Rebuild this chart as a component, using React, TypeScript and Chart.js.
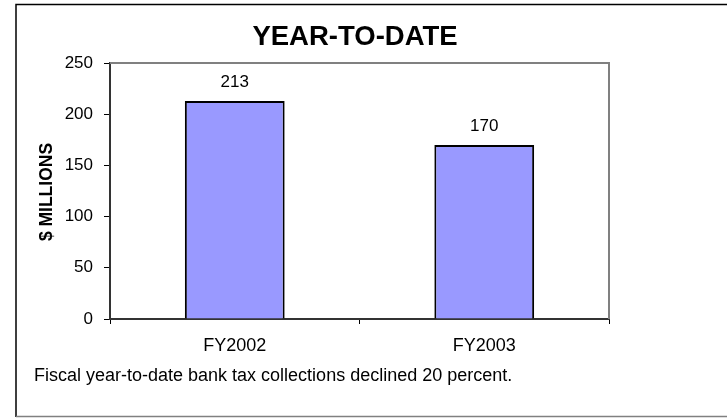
import React, { useEffect, useRef } from "react";
import { Chart, registerables } from "chart.js";

Chart.register(...registerables);

const categories = ["FY2002", "FY2003"];
const collections = [213, 170];
const chartTitle = "YEAR-TO-DATE";
const yAxisTitle = "$ MILLIONS";
const footnote = "Fiscal year-to-date bank tax collections declined 20 percent.";
const yMin = 0;
const yMax = 250;
const yStep = 50;

const FONT = "'Liberation Sans', Arial, sans-serif";

const decorPlugin = {
  id: "decor",
  beforeDraw(chart: any) {
    const ctx = chart.ctx;
    ctx.save();
    ctx.fillStyle = "#ffffff";
    ctx.fillRect(0, 0, chart.width, chart.height);
    // outer frame
    ctx.strokeStyle = "#000000";
    ctx.lineWidth = 1.5;
    ctx.beginPath();
    ctx.moveTo(16, 417);
    ctx.lineTo(16, 4.5);
    ctx.lineTo(chart.width + 5, 4.5);
    ctx.stroke();
    ctx.strokeStyle = "#808080";
    ctx.lineWidth = 1.5;
    ctx.beginPath();
    ctx.moveTo(16, 416.5);
    ctx.lineTo(chart.width + 5, 416.5);
    ctx.stroke();
    ctx.restore();
  },
  afterDraw(chart: any) {
    const ctx = chart.ctx;
    const a = chart.chartArea;
    ctx.save();
    // plot frame top/right
    ctx.strokeStyle = "#808080";
    ctx.lineWidth = 2;
    ctx.beginPath();
    ctx.moveTo(a.left, a.top);
    ctx.lineTo(a.right, a.top);
    ctx.lineTo(a.right, a.bottom);
    ctx.stroke();

    ctx.fillStyle = "#000000";
    // title
    ctx.font = `bold 27.5px ${FONT}`;
    ctx.textAlign = "center";
    ctx.textBaseline = "alphabetic";
    ctx.fillText(chartTitle, 355, 44.5);

    // y-axis title
    ctx.save();
    ctx.translate(52, 192);
    ctx.rotate(-Math.PI / 2);
    ctx.font = `bold 17.5px ${FONT}`;
    ctx.textAlign = "center";
    ctx.textBaseline = "alphabetic";
    ctx.fillText(yAxisTitle, 0, 0);
    ctx.restore();

    // footnote
    ctx.font = `18px ${FONT}`;
    ctx.textAlign = "left";
    ctx.fillText(footnote, 34, 381);

    // data labels
    const meta = chart.getDatasetMeta(0);
    ctx.font = `17px ${FONT}`;
    ctx.textAlign = "center";
    meta.data.forEach((bar: any, i: number) => {
      const v = chart.data.datasets[0].data[i];
      ctx.fillText(String(v), bar.x, bar.y - 14);
    });
    ctx.restore();
  },
};

export default function App() {
  const ref = useRef<HTMLCanvasElement | null>(null);
  useEffect(() => {
    document.body.style.margin = "0";
    const canvas = ref.current;
    if (!canvas) return;
    const chart = new Chart(canvas, {
      type: "bar",
      data: {
        labels: categories,
        datasets: [
          {
            data: collections,
            backgroundColor: "#9999ff",
            borderColor: "#000000",
            borderWidth: 2,
            barPercentage: 0.4,
            categoryPercentage: 1,
          },
        ],
      },
      options: {
        responsive: false,
        animation: false,
        devicePixelRatio: 1,
        layout: { padding: { left: 0, top: 63, right: 118, bottom: 0 } },
        plugins: {
          legend: { display: false },
          title: { display: false },
          tooltip: { enabled: false },
        },
        scales: {
          x: {
            grid: {
              offset: true,
              drawOnChartArea: false,
              drawTicks: true,
              tickLength: 5,
              color: "#000000",
            },
            border: { display: true, color: "#333333", width: 2 },
            ticks: {
              color: "#000000",
              font: { family: FONT, size: 18 },
              padding: 11,
              maxRotation: 0,
            },
            afterFit(scale: any) {
              scale.height = 99;
            },
          },
          y: {
            min: yMin,
            max: yMax,
            grid: {
              drawOnChartArea: false,
              drawTicks: true,
              tickLength: 6,
              color: "#000000",
            },
            border: { display: true, color: "#333333", width: 2 },
            ticks: {
              stepSize: yStep,
              color: "#000000",
              font: { family: FONT, size: 17 },
              padding: 11,
            },
            afterFit(scale: any) {
              scale.width = 110;
            },
          },
        },
      },
      plugins: [decorPlugin],
    });
    return () => chart.destroy();
  }, []);
  return (
    <div style={{ width: 727, height: 418 }}>
      <canvas ref={ref} width={727} height={418} />
    </div>
  );
}
